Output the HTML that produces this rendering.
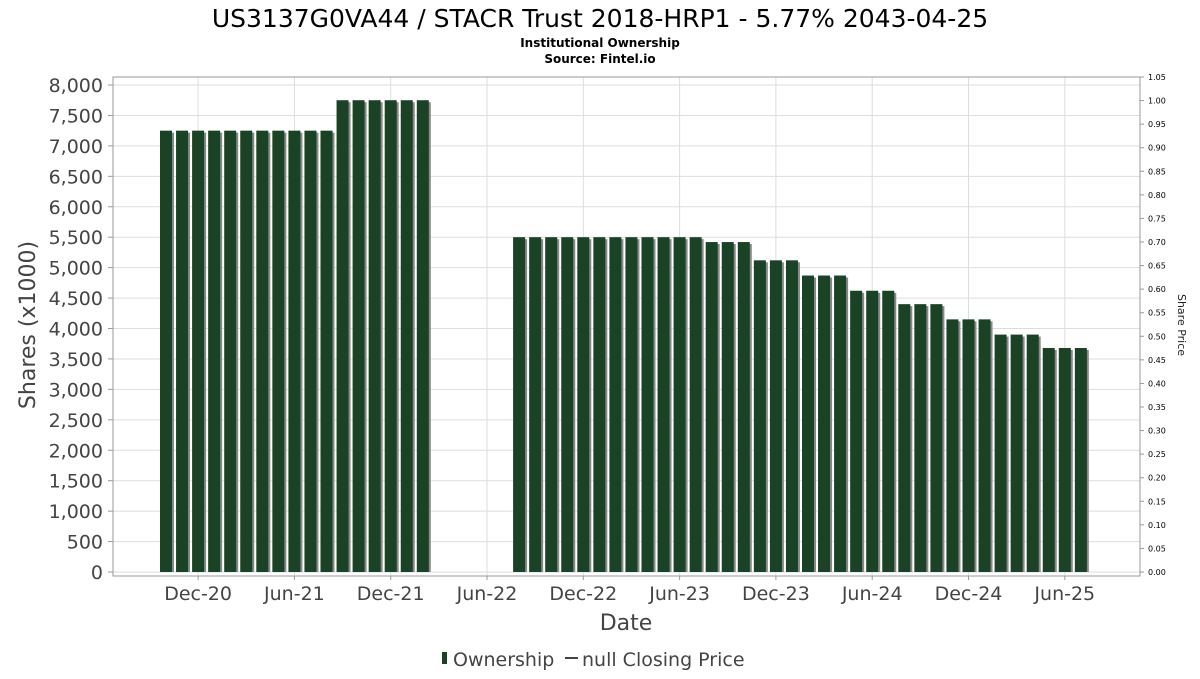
<!DOCTYPE html>
<html><head><meta charset="utf-8"><style>
body{margin:0;background:#fff;font-family:"DejaVu Sans","Liberation Sans",sans-serif;}
</style></head><body>
<svg id="c" width="1200" height="675" xmlns="http://www.w3.org/2000/svg">
<text x="600" y="27" text-anchor="middle" font-size="25" fill="#000">US3137G0VA44 / STACR Trust 2018-HRP1 - 5.77% 2043-04-25</text>
<text x="600" y="47" text-anchor="middle" font-size="12" font-weight="bold" fill="#000">Institutional Ownership</text>
<text x="600" y="63" text-anchor="middle" font-size="12" font-weight="bold" fill="#000">Source: Fintel.io</text>
<g id="grid"></g><g id="bars"></g><g id="axes"></g>
<text transform="translate(35,325) rotate(-90)" text-anchor="middle" font-size="22" fill="#444">Shares (x1000)</text>
<text transform="translate(1178,325) rotate(90)" text-anchor="middle" font-size="11" fill="#222">Share Price</text>
<text x="626" y="630" text-anchor="middle" font-size="22" fill="#444">Date</text>
<g>
<rect x="442" y="652" width="5" height="12" fill="#1a4224"/>
<text x="453" y="666" font-size="19" fill="#444">Ownership</text>
<line x1="565" y1="658" x2="578" y2="658" stroke="#444" stroke-width="2"/>
<text x="582" y="666" font-size="19" fill="#444">null Closing Price</text>
</g>
</svg>
<script>
const values=[7250,7250,7250,7250,7250,7250,7250,7250,7250,7250,7250,7750,7750,7750,7750,7750,7750,null,null,null,null,null,5500,5500,5500,5500,5500,5500,5500,5500,5500,5500,5500,5500,5420,5420,5420,5120,5120,5120,4870,4870,4870,4620,4620,4620,4400,4400,4400,4150,4150,4150,3900,3900,3900,3680,3680,3680];
const yTicks=[0,500,1000,1500,2000,2500,3000,3500,4000,4500,5000,5500,6000,6500,7000,7500,8000];
const rTicks=[0,0.05,0.1,0.15,0.2,0.25,0.3,0.35,0.4,0.45,0.5,0.55,0.6,0.65,0.7,0.75,0.8,0.85,0.9,0.95,1.0,1.05];
const xLabels=["Dec-20","Jun-21","Dec-21","Jun-22","Dec-22","Jun-23","Dec-23","Jun-24","Dec-24","Jun-25"];
const xLabelIdx=[2,8,14,20,26,32,38,44,50,56];
const NS="http://www.w3.org/2000/svg";
const L=113,R=1140,T=77,B=576;
const y=v=>572-v*(487/8000);
const yr=v=>572-v*(495/1.05);
const x=i=>160+i*16.05;
function mk(t,a,p){const e=document.createElementNS(NS,t);for(const k in a)e.setAttribute(k,a[k]);p.appendChild(e);return e;}
const g=document.getElementById('grid'),b=document.getElementById('bars'),ax=document.getElementById('axes');
yTicks.forEach(v=>{
 const l=mk('line',{x1:L,x2:R,y1:y(v),y2:y(v),stroke:'#ddd'},g);
 
 
 const t=mk('text',{x:103,y:y(v)+7,'text-anchor':'end','font-size':19,fill:'#444'},ax);
 t.textContent=v.toLocaleString('en-US');
 
 
 mk('line',{x1:L-5,x2:L,y1:y(v),y2:y(v),stroke:'#999'},ax);
});
rTicks.forEach(v=>{
 const t=mk('text',{x:1148,y:yr(v)+3,'font-size':8,fill:'#000'},ax);
 t.textContent=v.toFixed(2);
 
 
 mk('line',{x1:R,x2:R+4,y1:yr(v),y2:yr(v),stroke:'#999'},ax);
});
xLabels.forEach((s,k)=>{
 const cx=x(xLabelIdx[k])+6;
 const l=mk('line',{x1:cx,x2:cx,y1:T,y2:B,stroke:'#ddd'},g);
 
 
 mk('line',{x1:cx,x2:cx,y1:B,y2:B+4,stroke:'#999'},ax);
 const t=mk('text',{x:cx,y:600,'text-anchor':'middle','font-size':19,fill:'#444'},ax);
 t.textContent=s;
 
 
});
values.forEach((v,i)=>{
 if(v==null)return;
 mk('rect',{x:x(i)+3,y:y(v)+2,width:11,height:572-y(v)-2,fill:'#888'},b);
 const r=mk('rect',{x:x(i),y:y(v),width:12,height:572-y(v),fill:'#1a4224'},b);
 
 
});
mk('rect',{x:L,y:T,width:R-L,height:B-T,fill:'none',stroke:'#999'},ax);
</script>
</body></html>
